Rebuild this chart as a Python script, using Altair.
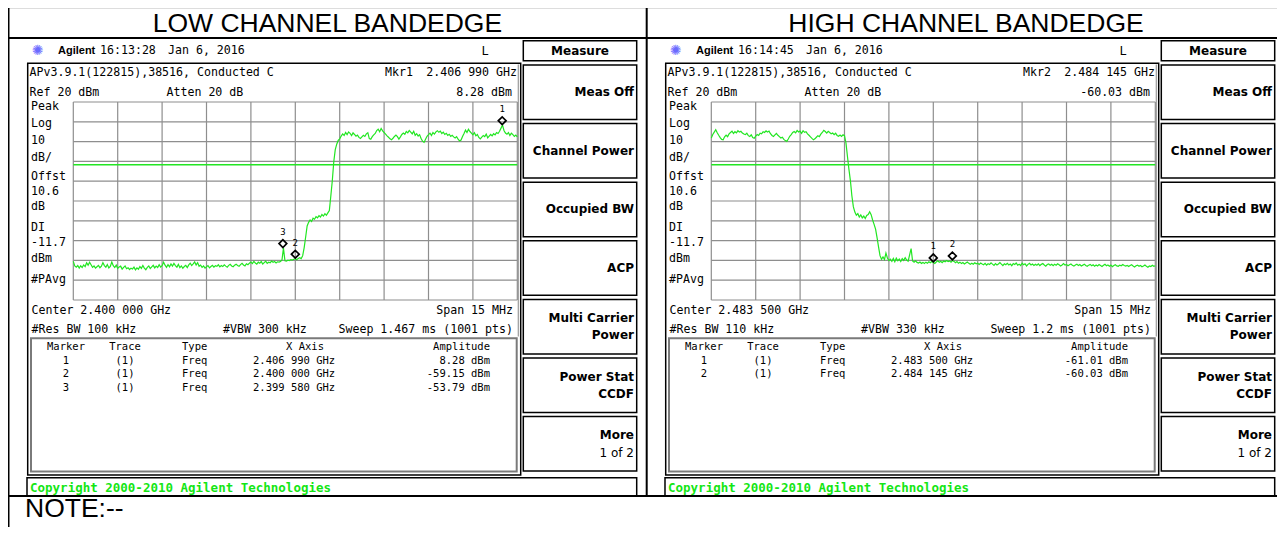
import altair as alt
import pandas as pd

# ---------------- data ----------------
TITLES = ["LOW CHANNEL BANDEDGE", "HIGH CHANNEL BANDEDGE"]
NOTE_TEXT = "NOTE:--"

LOW_CENTER_MHZ = 2400.0
HIGH_CENTER_MHZ = 2483.5
SPAN_MHZ = 15.0
REF_LEVEL_DBM = 20.0
DB_PER_DIV = 10.0
N_DIV = 10
DISPLAY_LINE_DBM = -11.7

LOW_TRACE_DBM = [
    -60.5, -62.8, -63.4, -62.6, -63.9, -62.7, -63.6, -62.3, -63.1, -61.2, -62.4, -60.9, -62.2, -63.5, -62.8, -63.9, -63.2, -62.5, -63.7, -62.9,
    -61.1, -62.6, -63.4, -62.1, -63.8, -63.0, -60.8, -62.7, -63.6, -62.4, -64.1, -63.3, -62.9, -64.4, -63.5, -62.8, -64.2, -63.7, -64.6, -63.9,
    -64.3, -63.4, -64.8, -63.8, -64.5, -63.1, -64.0, -62.6, -63.9, -64.7, -63.5, -62.8, -64.1, -63.3, -62.5, -63.8, -62.9, -63.6, -62.2, -63.4,
    -62.7, -60.9, -62.4, -63.5, -62.1, -63.2, -61.8, -62.9, -61.5, -62.6, -63.4, -62.0, -63.7, -62.8, -64.0, -63.1, -62.5, -63.6, -62.3, -61.4,
    -62.6, -61.8, -60.8, -62.3, -61.2, -63.0, -62.4, -63.5, -62.8, -63.9, -63.2, -62.6, -63.8, -63.1, -62.5, -63.4, -62.7, -63.0, -62.2, -63.3,
    -62.6, -63.1, -62.2, -62.9, -63.4, -62.5, -62.0, -62.8, -63.2, -62.4, -61.9, -62.6, -63.0, -62.1, -61.5, -62.3, -62.8, -61.7, -62.2, -61.4,
    -60.8, -61.6, -60.5, -61.3, -61.9, -60.9, -61.4, -60.6, -61.8, -61.1, -60.4, -61.5, -60.9, -61.2, -60.3, -61.0, -60.6, -61.3, -60.7, -60.9,
    -60.5, -59.8, -53.8, -60.2, -60.4, -59.9, -60.1, -59.6, -59.8, -59.4, -59.15, -59.7, -59.0, -58.6, -59.1, -57.6, -53.5, -48.2, -42.6, -40.8,
    -39.6, -40.3, -38.7, -39.2, -37.9, -38.5, -37.4, -38.1, -36.8, -37.6, -36.4, -37.2, -36.0, -34.8, -27.5, -19.8, -10.2, -4.1, -1.3, 0.6,
    1.4, 2.8, 3.9, 3.1, 4.6, 3.5, 4.9, 4.2, 3.0, 4.4, 3.6, 2.7, 3.3, 2.1, 1.6, 2.4, 3.2, 2.6, 3.9, 4.5,
    1.5, 1.2, 2.5, 3.4, 4.1, 5.6, 6.3, 5.0, 6.6, 5.4, 4.6, 3.8, 2.9, 2.2, 1.4, 0.9, 1.7, 2.6, 3.3, 2.5,
    1.3, 2.4, 3.6, 4.3, 3.7, 5.1, 4.4, 5.6, 4.8, 3.9, 5.2, 3.2, 4.0, 2.8, 3.5, 1.6, 0.2, -0.4, 1.2, 2.7,
    3.5, 4.2, 3.1, 4.6, 3.8, 4.9, 5.5, 4.7, 5.3, 4.1, 4.8, 3.6, 4.2, 3.1, 3.7, 2.6, 3.2, 2.4, 1.8, 2.5,
    1.2, 0.3, 0.8, 2.6, 4.1, 5.8, 4.6, 6.2, 5.1, 4.3, 3.4, 4.5, 2.9, 3.6, 2.1, 1.4, 2.3, 3.1, 2.5, 3.8,
    1.9, 2.8, 3.6, 2.9, 4.0, 3.4, 4.6, 4.1, 5.2, 6.8, 8.28, 5.6, 4.3, 3.7, 4.6, 3.1, 4.2, 3.5, 2.6, 3.3,
    2.4,
]

HIGH_TRACE_DBM = [
    1.8, 3.6, 4.8, 6.0, 4.5, 3.2, 2.0, 1.1, 0.9, 2.4, 3.3, 2.5, 3.9, 4.6, 5.3, 4.1, 5.0, 4.4, 5.5, 4.8,
    5.2, 4.3, 3.8, 3.5, 4.2, 3.0, 2.6, 3.4, 2.1, 1.7, 2.8, 3.6, 3.1, 4.2, 3.9, 5.0, 4.6, 5.4, 4.8, 5.3,
    4.0, 3.1, 2.6, 3.4, 4.1, 3.2, 2.5, 1.8, 2.2, 1.1, 0.5, 0.1, 1.3, 2.7, 3.5, 4.6, 5.1, 4.4, 5.6, 4.9,
    5.3, 4.2, 5.5, 4.7, 5.0, 3.9, 3.2, 2.4, 1.6, 0.9, 1.4, 2.2, 3.0, 2.5, 3.8, 4.6, 5.7, 5.1, 4.3, 5.2,
    4.6, 3.9, 4.3, 3.5, 4.2, 3.1, 2.7, 3.3, 2.6, 3.4, 3.0, -0.7, -7.5, -14.0, -19.8, -27.5, -33.0, -35.6, -37.2, -36.4,
    -38.1, -37.0, -38.5, -37.6, -38.8, -37.3, -36.8, -35.4, -36.9, -39.6, -41.8, -44.2, -48.5, -53.2, -57.6, -59.4, -58.2, -59.6, -56.3, -58.8,
    -60.1, -59.4, -60.5, -59.0, -60.7, -58.9, -60.2, -59.3, -60.6, -59.1, -60.0, -58.6, -59.8, -60.4, -57.2, -54.0, -60.3, -60.9, -60.2, -61.0,
    -61.3, -60.8, -61.5, -61.0, -61.6, -60.9, -61.4, -60.7, -61.2, -60.6, -61.01, -61.5, -60.8, -60.2, -60.9, -60.4, -61.1, -60.3, -60.7, -60.1,
    -60.6, -60.3, -60.9, -60.03, -60.5, -61.2, -60.6, -61.4, -60.9, -61.6, -61.1, -61.8, -61.3, -60.8, -61.5, -62.0, -61.4, -61.9, -61.2, -61.7,
    -61.4, -62.0, -61.3, -61.8, -62.2, -61.5, -62.4, -61.7, -62.1, -61.2, -61.9, -62.5, -61.6, -62.3, -61.8, -61.1, -61.9, -62.6, -61.7, -62.2,
    -61.5, -62.3, -61.8, -62.7, -61.6, -62.1, -61.3, -62.4, -61.9, -62.6, -61.4, -62.2, -61.7, -62.8, -62.0, -61.5, -62.3, -61.8, -62.5, -61.9,
    -62.4, -61.7, -62.6, -62.0, -61.6, -62.3, -62.9, -62.1, -61.8, -62.5, -62.0, -62.7, -61.9, -62.4, -61.7, -62.2, -62.8, -62.3, -61.6, -62.4,
    -62.1, -62.7, -62.2, -61.8, -62.5, -62.9, -62.3, -61.9, -62.6, -62.1, -62.8, -62.4, -61.9, -62.6, -63.0, -62.4, -62.0, -62.7, -62.2, -62.9,
    -62.3, -62.8, -62.1, -62.6, -63.1, -62.5, -62.0, -62.7, -62.3, -62.9, -62.4, -63.2, -62.6, -62.2, -62.8, -63.0, -62.4, -62.7, -62.1, -62.6,
    -62.9, -62.5, -63.1, -62.6, -62.2, -62.8, -63.3, -62.7, -62.4, -63.0, -62.6, -63.2, -62.8, -62.3, -62.9, -63.4, -62.8, -63.1, -62.5, -63.0,
    -62.7,
]

LOW_MARKER_NUM = [1, 2, 3]
LOW_MARKER_GHZ = [2.406990, 2.400000, 2.399580]
LOW_MARKER_DBM = [8.28, -59.15, -53.79]
HIGH_MARKER_NUM = [1, 2]
HIGH_MARKER_GHZ = [2.483500, 2.484145]
HIGH_MARKER_DBM = [-61.01, -60.03]

LOW_INFO = {"time": "16:13:28", "date": "Jan 6, 2016", "active": 0,
            "rbw": "#Res BW 100 kHz", "vbw": "#VBW 300 kHz", "sweep": "Sweep 1.467 ms (1001 pts)"}
HIGH_INFO = {"time": "16:14:45", "date": "Jan 6, 2016", "active": 1,
             "rbw": "#Res BW 110 kHz", "vbw": "#VBW 330 kHz", "sweep": "Sweep 1.2 ms (1001 pts)"}

SOFTKEYS = [["Meas Off"], ["Channel Power"], ["Occupied BW"], ["ACP"],
            ["Multi Carrier", "Power"], ["Power Stat", "CCDF"], ["More", "1 of 2"]]
LEFT_LABELS = ["Peak", "Log", "10", "dB/", "Offst", "10.6", "dB", "DI", "-11.7", "dBm", "#PAvg"]

# ---------------- styling ----------------
MONO = "DejaVu Sans Mono"
SANS = "DejaVu Sans"
ARIAL = "Liberation Sans"
GREEN = "#22e622"
GRID = "#8e8e8e"


def P(v):
    return v - 8.0


def fmt_ghz(g):
    s = f"{g:.6f}"
    return s[:5] + " " + s[5:]


def texts(rows, size, font=MONO, weight="normal", align="left", color="black", baseline="middle"):
    df = pd.DataFrame({"x": [P(r[0]) for r in rows], "y": [P(r[1]) for r in rows],
                       "t": [r[2] for r in rows]})
    return alt.Chart(df).mark_text(font=font, fontSize=size, fontWeight=weight, align=align,
                                   baseline=baseline, color=color).encode(
        x=alt.X("x:Q", scale=None, axis=None), y=alt.Y("y:Q", scale=None, axis=None), text="t:N")


def boxes(rows, stroke="black", sw=1.5):
    df = pd.DataFrame({"x1": [P(r[0]) for r in rows], "y1": [P(r[1]) for r in rows],
                       "x2": [P(r[2]) for r in rows], "y2": [P(r[3]) for r in rows]})
    return alt.Chart(df).mark_rect(fillOpacity=0, stroke=stroke, strokeWidth=sw).encode(
        x=alt.X("x1:Q", scale=None, axis=None), x2="x2:Q",
        y=alt.Y("y1:Q", scale=None, axis=None), y2="y2:Q")


def lines(rows, color="black", sw=2):
    df = pd.DataFrame({"x1": [P(r[0]) for r in rows], "y1": [P(r[1]) for r in rows],
                       "x2": [P(r[2]) for r in rows], "y2": [P(r[3]) for r in rows]})
    return alt.Chart(df).mark_rule(color=color, strokeWidth=sw).encode(
        x=alt.X("x1:Q", scale=None, axis=None), x2="x2:Q",
        y=alt.Y("y1:Q", scale=None, axis=None), y2="y2:Q")


def panel(dx, center, trace, mnum, mghz, mdbm, info):
    layers = []
    X0, X1 = 73.3 + dx, 517.3 + dx
    Y0, Y1 = 102.0, 300.0
    lo, hi = center - SPAN_MHZ / 2, center + SPAN_MHZ / 2
    bottom = REF_LEVEL_DBM - N_DIV * DB_PER_DIV
    xs = alt.Scale(domain=[lo, hi], range=[P(X0), P(X1)], zero=False, nice=False)
    ys = alt.Scale(domain=[bottom, REF_LEVEL_DBM], range=[P(Y1), P(Y0)], zero=False, nice=False)

    # frames
    layers.append(boxes([(27.7 + dx, 63.3, 520.7 + dx, 475.0),
                         (523.3 + dx, 40.7, 636.7 + dx, 60.7),
                         (27.0 + dx, 477.7, 636.7 + dx, 496.0)]
                        + [(523.3 + dx, 65 + 58.6 * i, 636.7 + dx, 65 + 58.6 * i + 54.5) for i in range(7)]))
    layers.append(boxes([(31.0 + dx, 338.3, 516.7 + dx, 471.5)], stroke="#7a7a7a", sw=2))
    layers.append(lines([(518.3 + dx, 64.5, 518.3 + dx, 336.5)], color="#9a9a9a", sw=1.2))

    # graticule
    vx = [lo + k * SPAN_MHZ / N_DIV for k in range(N_DIV + 1)]
    hy = [REF_LEVEL_DBM - k * DB_PER_DIV for k in range(N_DIV + 1)]
    layers.append(alt.Chart(pd.DataFrame({"f": vx})).mark_rule(color=GRID, strokeWidth=1.2).encode(
        x=alt.X("f:Q", scale=xs, axis=None), y=alt.value(P(Y0)), y2=alt.value(P(Y1))))
    layers.append(alt.Chart(pd.DataFrame({"d": hy})).mark_rule(color=GRID, strokeWidth=1.2).encode(
        y=alt.Y("d:Q", scale=ys, axis=None), x=alt.value(P(X0)), x2=alt.value(P(X1))))
    layers.append(alt.Chart(pd.DataFrame({"d": [DISPLAY_LINE_DBM]})).mark_rule(color=GREEN, strokeWidth=1.4).encode(
        y=alt.Y("d:Q", scale=ys, axis=None), x=alt.value(P(X0)), x2=alt.value(P(X1))))

    # trace (sweep points equally spaced over the span)
    n = len(trace)
    tdf = pd.DataFrame({"f": [lo + i * SPAN_MHZ / (n - 1) for i in range(n)], "d": trace})
    layers.append(alt.Chart(tdf).mark_line(color=GREEN, strokeWidth=1.2).encode(
        x=alt.X("f:Q", scale=xs, axis=None), y=alt.Y("d:Q", scale=ys, axis=None)))

    # markers
    mdf = pd.DataFrame({"f": [g * 1000 for g in mghz], "d": mdbm, "n": [str(k) for k in mnum]})
    layers.append(alt.Chart(mdf).mark_point(shape="diamond", filled=False, color="black", strokeWidth=1.7,
                                            size=60, opacity=1, yOffset=-4.5).encode(
        x=alt.X("f:Q", scale=xs, axis=None), y=alt.Y("d:Q", scale=ys, axis=None)))
    layers.append(alt.Chart(mdf).mark_text(font=MONO, fontSize=9, color="black", dy=-16).encode(
        x=alt.X("f:Q", scale=xs, axis=None), y=alt.Y("d:Q", scale=ys, axis=None), text="n:N"))

    a = info["active"]
    # header row
    layers.append(texts([(37.5 + dx, 51, "\u273a")], 14, font=SANS, align="center", color="#6b6bff"))
    layers.append(texts([(58 + dx, 51, "Agilent")], 11, font=ARIAL, weight="bold"))
    mono_left = [(100 + dx, 51, info["time"]), (168 + dx, 51, info["date"]),
                 (29.5 + dx, 73, "APv3.9.1(122815),38516, Conducted C"),
                 (385 + dx, 73, f"Mkr{mnum[a]}"),
                 (29.5 + dx, 92.5, f"Ref {REF_LEVEL_DBM:.0f} dBm"),
                 (166.5 + dx, 92.5, "Atten 20 dB"),
                 (31.5 + dx, 311, f"Center {fmt_ghz(center / 1000)} GHz"),
                 (31.5 + dx, 329.5, info["rbw"]),
                 (223 + dx, 329.5, info["vbw"])]
    ly = [107, 124, 141, 158, 176.5, 191.5, 206.5, 228, 243, 259, 280]
    mono_left += [(31 + dx, y, t) for y, t in zip(ly, LEFT_LABELS)]
    layers.append(texts(mono_left, 11.6))
    layers.append(texts([(517 + dx, 73, f"{fmt_ghz(mghz[a])} GHz"),
                         (512 + dx, 92.5, f"{mdbm[a]:.2f} dBm"),
                         (513 + dx, 311, f"Span {SPAN_MHZ:.0f} MHz"),
                         (513 + dx, 329.5, info["sweep"])], 11.6, align="right"))
    layers.append(texts([(485 + dx, 51, "L")], 12, align="center"))

    # marker table
    rows_y = [360.5, 374, 387.5]
    tc = [(66 + dx, 347, "Marker"), (125 + dx, 347, "Trace"), (305 + dx, 347, "X Axis")]
    tl = [(182 + dx, 347, "Type")]
    tr = [(490 + dx, 347, "Amplitude")]
    for k in range(len(mnum)):
        y = rows_y[k]
        tc += [(66 + dx, y, str(mnum[k])), (125 + dx, y, "(1)")]
        tl += [(182 + dx, y, "Freq"), (253 + dx, y, f"{fmt_ghz(mghz[k])} GHz")]
        tr += [(490 + dx, y, f"{mdbm[k]:.2f} dBm")]
    layers.append(texts(tc, 10.5, align="center"))
    layers.append(texts(tl, 10.5))
    layers.append(texts(tr, 10.5, align="right"))

    # softkeys
    sk_bold = [(580 + dx, 51, "Measure")]
    sk_reg = []
    for i, lab in enumerate(SOFTKEYS):
        top = 65 + 58.6 * i
        if len(lab) == 1:
            sk_bold.append((634 + dx, top + 27, lab[0]))
        else:
            sk_bold.append((634 + dx, top + 18.5, lab[0]))
            if lab[1] == "1 of 2":
                sk_reg.append((634 + dx, top + 36.5, lab[1]))
            else:
                sk_bold.append((634 + dx, top + 36, lab[1]))
    layers.append(texts(sk_bold[:1], 12, font=SANS, weight="bold", align="center"))
    layers.append(texts(sk_bold[1:], 12, font=SANS, weight="bold", align="right"))
    layers.append(texts(sk_reg, 12, font=SANS, align="right"))

    # copyright bar
    layers.append(texts([(30 + dx, 487.5, "Copyright 2000-2010 Agilent Technologies")], 12.5,
                        weight="bold", color="#14e614"))
    return layers


layers = []
layers.append(lines([(8, 6, 1285, 6), (8, 38, 1285, 38), (8, 496, 1285, 496),
                     (8.5, 6, 8.5, 535), (646.7, 6, 646.7, 496), (1284, 6, 1284, 496)]))
layers.append(texts([(327.4, 31.7, TITLES[0]), (966, 31.7, TITLES[1])], 26.5, font=ARIAL,
                    align="center", baseline="alphabetic"))
layers.append(texts([(25, 516.5, NOTE_TEXT)], 26.5, font=ARIAL, baseline="alphabetic"))

layers += panel(0, LOW_CENTER_MHZ, LOW_TRACE_DBM, LOW_MARKER_NUM, LOW_MARKER_GHZ, LOW_MARKER_DBM, LOW_INFO)
layers += panel(638, HIGH_CENTER_MHZ, HIGH_TRACE_DBM, HIGH_MARKER_NUM, HIGH_MARKER_GHZ, HIGH_MARKER_DBM, HIGH_INFO)

chart = alt.layer(*layers).resolve_scale(x="independent", y="independent").properties(
    width=1269, height=519, padding=0, autosize=alt.AutoSizeParams(type="none")
).configure_view(strokeWidth=0).configure(background="white")

chart.save("out.html", embed_options={"renderer": "svg", "actions": False})
